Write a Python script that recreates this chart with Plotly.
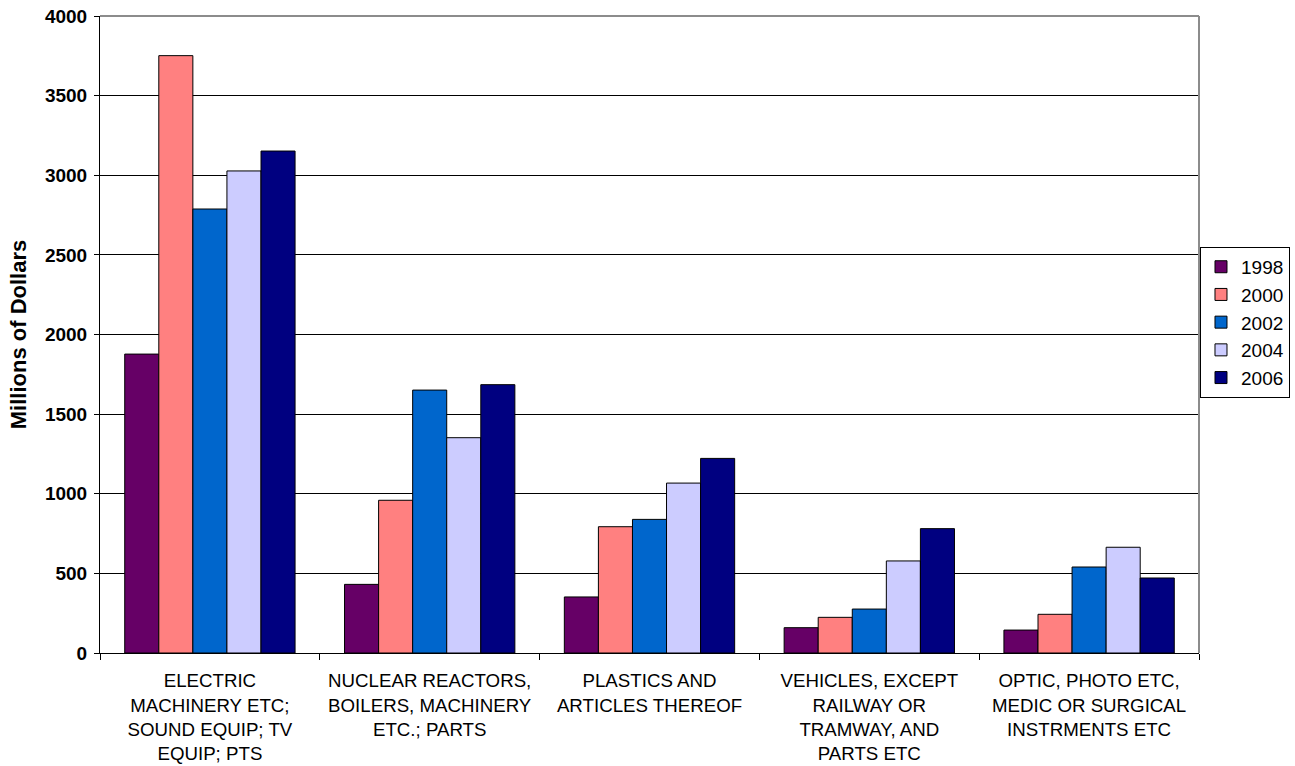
import plotly.graph_objects as go

categories = [
    "ELECTRIC<br>MACHINERY ETC;<br>SOUND EQUIP; TV<br>EQUIP; PTS",
    "NUCLEAR REACTORS,<br>BOILERS, MACHINERY<br>ETC.; PARTS",
    "PLASTICS AND<br>ARTICLES THEREOF",
    "VEHICLES, EXCEPT<br>RAILWAY OR<br>TRAMWAY, AND<br>PARTS ETC",
    "OPTIC, PHOTO ETC,<br>MEDIC OR SURGICAL<br>INSTRMENTS ETC",
]
years = ["1998", "2000", "2002", "2004", "2006"]
v1998 = [1877, 431, 352, 159, 144]
v2000 = [3751, 959, 793, 224, 243]
v2002 = [2788, 1651, 839, 276, 540]
v2004 = [3027, 1352, 1067, 578, 664]
v2006 = [3152, 1685, 1222, 781, 471]
series = [v1998, v2000, v2002, v2004, v2006]
colors = ["#660066", "#FF8080", "#0066CC", "#CCCCFF", "#000080"]
yticks = [0, 500, 1000, 1500, 2000, 2500, 3000, 3500, 4000]

FONT = "Arial, 'Liberation Sans', sans-serif"

fig = go.Figure()
for name, vals, col in zip(years, series, colors):
    fig.add_trace(go.Bar(
        x=categories, y=vals, name=name,
        marker=dict(color=col, line=dict(color="black", width=1)),
    ))

fig.update_layout(
    width=1295, height=766,
    margin=dict(l=100, r=96, t=16, b=113, autoexpand=False),
    paper_bgcolor="white", plot_bgcolor="white",
    barmode="group", bargap=0.225, bargroupgap=0,
    font=dict(family=FONT, color="black"),
    showlegend=True,
    legend=dict(
        x=1.0828, xanchor="right", y=0.519, yanchor="middle",
        bordercolor="black", borderwidth=1, bgcolor="white",
        font=dict(size=19, family=FONT, color="black"),
        tracegroupgap=0, itemwidth=30,
    ),
    xaxis=dict(
        showline=True, linecolor="black", linewidth=1,
        ticks="outside", ticklen=6, tickcolor="black",
        tickson="boundaries", automargin=False,
        tickangle=0,
        ticklabelstandoff=11,
        tickfont=dict(size=18.7, family=FONT, color="black"),
        showgrid=False,
    ),
    yaxis=dict(
        range=[0, 4000], tickvals=yticks,
        ticktext=[str(t) for t in yticks],
        showline=True, linecolor="black", linewidth=1,
        ticks="outside", ticklen=5, tickcolor="black",
        showgrid=True, gridcolor="black", gridwidth=1,
        automargin=False,
        ticklabelstandoff=3,
        tickfont=dict(size=19, family=FONT, color="black", weight="bold"),
        title=dict(text="<b>Millions of Dollars</b>",
                   font=dict(size=22, family=FONT, color="black"),
                   standoff=12),
        zeroline=False,
    ),
)

# plot-area border (top and right), grey as in the reference
fig.add_shape(type="line", xref="paper", yref="paper", x0=0, x1=1, y0=1, y1=1,
              line=dict(color="#8c8c8c", width=2), layer="above")
fig.add_shape(type="line", xref="paper", yref="paper", x0=1, x1=1, y0=0, y1=1,
              line=dict(color="#8c8c8c", width=2), layer="above")

fig.write_html("out.html")
